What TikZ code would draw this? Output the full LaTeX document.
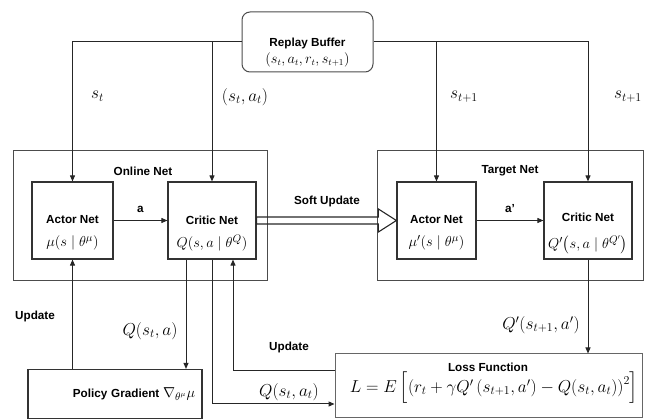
\documentclass[tikz,border=0pt]{standalone}
\usepackage{amsmath,amssymb}
\usepackage{fontspec}
\setsansfont{Liberation Sans}
\usetikzlibrary{arrows.meta,calc}

\begin{document}
\begin{tikzpicture}[x=1pt,y=-1pt,
  font=\fontsize{11.7}{13}\selectfont\sffamily\bfseries,
  net/.style={draw=black!80,line width=1.2pt,minimum width=#1,
    minimum height=77pt,inner sep=0pt},
  group/.style={draw=black!70,line width=1pt,inner sep=0pt},
  flow/.style={-{Triangle[length=6pt,width=5pt]},draw=black!85,line width=1pt},
  wire/.style={draw=black!85,line width=1pt},
  heading/.style={inner sep=1pt},
  formula/.style={font=\fontsize{15}{17}\selectfont,inner sep=1pt},
  mlabel/.style={font=\fontsize{18}{20}\selectfont,inner sep=1pt}]
\useasboundingbox (0,0) rectangle (649,419);

\node[group,minimum width=254pt,minimum height=130pt] (online) at (140,216) {};
\node[group,minimum width=266pt,minimum height=130pt] (target) at (510,216) {};
\node[heading] (online_title) at (143,171) {Online Net};
\node[heading] (target_title) at (510,171) {Target Net};

\node[net=81pt] (oactor) at (72.5,220.5) {};
\node[heading] (oactor_title) at (72.5,220) {Actor Net};
\node[formula] (oactor_math) at (72.5,243) {$\mu(s\mid\theta^{\mu})$};
\node[net=88pt] (ocritic) at (212,220.5) {};
\node[heading] (ocritic_title) at (212,220) {Critic Net};
\node[formula] (ocritic_math) at (212,243) {$Q(s,a\mid\theta^{Q})$};
\node[net=79pt] (tactor) at (436.5,220.5) {};
\node[heading] (tactor_title) at (436.5,220) {Actor Net};
\node[formula] (tactor_math) at (436.5,243) {$\mu'(s\mid\theta^{\mu})$};
\node[net=88pt] (tcritic) at (588,220.5) {};
\node[heading] (tcritic_title) at (588,217) {Critic Net};
\node[formula,inner sep=0pt] (tcritic_math) at (588,245) {$Q'\bigl(s,a\mid\theta^{Q'}\bigr)$};

\node[draw=black!70,line width=1pt,rounded corners=8pt,
  minimum width=131pt,minimum height=60pt] (buffer) at (307.5,42) {};
\node[heading] (buffer_title) at (307.5,43) {Replay Buffer};
\node[formula,font=\fontsize{13.5}{16}\selectfont] (buffer_math) at (307.5,60) {$(s_t,a_t,r_t,s_{t+1})$};

\node[draw=black!80,line width=1.2pt,minimum height=49pt,text width=160pt,
  align=right,inner xsep=7pt,inner ysep=0pt] (policy) at (115,394)
  {Policy Gradient {\fontsize{15}{17}\selectfont$\nabla_{\theta^{\mu}}\mu$}};
\node[draw=black!60,line width=1pt,minimum width=307pt,minimum height=64pt] (loss) at (488.5,386) {};
\node[heading] (loss_title) at (488,367) {Loss Function};
\node[formula,font=\fontsize{17.5}{19}\selectfont] (loss_math) at (494,388)
  {$L=E\left[\left(r_t+\gamma Q'\left(s_{t+1},a'\right)-Q(s_t,a_t)\right)^2\right]$};

% replay buffer to the nets
\draw[flow] (buffer.west) -| (oactor.north);
\draw[flow] (ocritic.north |- buffer.west) -- (ocritic.north);
\draw[flow] (buffer.east) -| (tcritic.north);
\draw[flow] (tactor.north |- buffer.east) -- (tactor.north);
\node[mlabel] (st) at (97.5,96) {$s_t$};
\node[mlabel] (stat) at (245,97) {$(s_t,a_t)$};
\node[mlabel] (snext) at (464,97) {$s_{t+1}$};
\node[mlabel] (snext_t) at (628,97) {$s_{t+1}$};

\draw[flow] (oactor.east) -- node[heading,above=6pt] (act) {a} (ocritic.west);
\draw[flow] (tactor.east) -- node[heading,above=6pt] (act_t) {a'} (tcritic.west);

% soft update
\draw[wire,line width=1.1pt] ([yshift=3.5pt]ocritic.east)
  -- ([xshift=-18pt,yshift=3.5pt]tactor.west) -- ([xshift=-18pt,yshift=11.5pt]tactor.west)
  -- (tactor.west) -- ([xshift=-18pt,yshift=-11.5pt]tactor.west)
  -- ([xshift=-18pt,yshift=-3.5pt]tactor.west) -- ([yshift=-3.5pt]ocritic.east) -- cycle;
\node[heading] (soft) at (327,201) {Soft Update};

% gradients and losses
\draw[flow] (policy.north -| oactor.south) -- (oactor.south);
\node[heading] (upd_actor) at (35,316) {Update};
\draw[flow] ([xshift=-26pt]ocritic.south) -- ([xshift=-26pt]ocritic.south |- policy.north);
\node[mlabel] (qsa) at (150,331) {$Q(s_t,a)$};
\draw[flow] (ocritic.south) |- ([yshift=-18pt]loss.west);
\node[mlabel] (qsat) at (289,392) {$Q(s_t,a_t)$};
\draw[flow] ([yshift=15pt]loss.west) -| ([xshift=21pt]ocritic.south);
\node[heading] (upd_critic) at (289,347) {Update};
\draw[flow] (tcritic.south) -- (tcritic.south |- loss.north);
\node[mlabel] (qnext) at (541,325) {$Q'(s_{t+1},a')$};
\end{tikzpicture}
\end{document}
